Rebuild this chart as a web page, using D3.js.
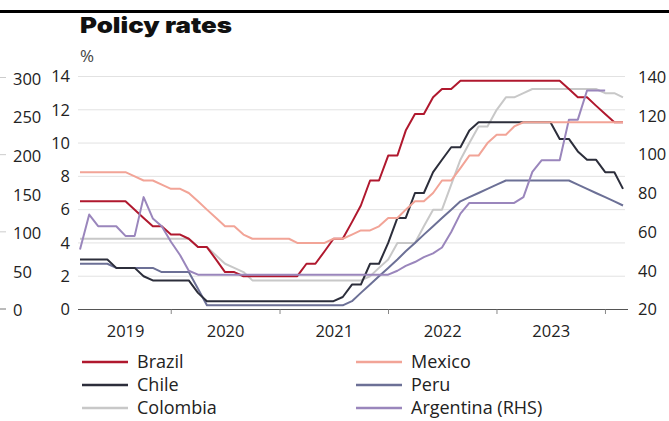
<!DOCTYPE html>
<html>
<head>
<meta charset="utf-8">
<script src="https://cdn.jsdelivr.net/npm/d3@7"></script>
<style>
  html, body { margin: 0; padding: 0; background: #fff; }
  svg { display: block; }
  text { font-family: "Open Sans", "Noto Sans", sans-serif; fill: #222; }
</style>
</head>
<body>
<svg id="chart" width="669" height="421"></svg>
<script>
// ---- Data (month-end values, Feb 2019 .. Feb 2024) ----
const startYear = 2019, startMonth = 1; // Feb 2019
const brazil = [6.5,6.5,6.5,6.5,6.5,6.5, 6.0,5.5,5.0,5.0,4.5,4.5,4.25,3.75,3.75,3.0,2.25,2.25,
  2.0,2.0,2.0,2.0,2.0,2.0,2.0, 2.75,2.75,3.5,4.25,4.25,5.25,6.25,7.75,7.75,9.25,9.25,10.75,11.75,11.75,12.75,13.25,13.25,
  13.75,13.75,13.75,13.75,13.75,13.75,13.75,13.75,13.75,13.75,13.75,13.75, 13.25,12.75,12.75,12.25,11.75,11.25,11.25];
const mexico = [8.25,8.25,8.25,8.25,8.25,8.25, 8.0,7.75,7.75,7.5,7.25,7.25,7.0,6.5,6.0,5.5,5.0,5.0,4.5,
  4.25,4.25,4.25,4.25,4.25, 4.0,4.0,4.0,4.0, 4.25,4.25,4.5,4.75,4.75,5.0,5.5,5.5,6.0,6.5,6.5,7.0,7.75,7.75,8.5,9.25,9.25,10.0,10.5,10.5,11.0,
  11.25,11.25,11.25,11.25,11.25,11.25,11.25,11.25,11.25,11.25,11.25,11.25];
const chile = [3.0,3.0,3.0,3.0, 2.5,2.5,2.5, 2.0, 1.75,1.75,1.75,1.75,1.75, 1.0,
  0.5,0.5,0.5,0.5,0.5,0.5,0.5,0.5,0.5,0.5,0.5,0.5,0.5,0.5,0.5,
  0.75,1.5,1.5,2.75,2.75,4.0,5.5,5.5,7.0,7.0,8.25,9.0,9.75,9.75,10.75,11.25,
  11.25,11.25,11.25,11.25,11.25,11.25,11.25,11.25, 10.25,10.25,9.5,9.0,9.0,8.25,8.25,7.25];
const peru = [2.75,2.75,2.75,2.75, 2.5, 2.5,2.5,2.5,2.5, 2.25,2.25,2.25,2.25, 1.25,
  0.25,0.25,0.25,0.25,0.25,0.25,0.25,0.25,0.25,0.25,0.25,0.25,0.25,0.25,0.25,0.25,
  0.5,1.0,1.5,2.0,2.5,3.0,3.5,4.0,4.5,5.0,5.5,6.0,6.5,6.75,7.0,7.25,7.5,
  7.75,7.75,7.75,7.75,7.75,7.75,7.75,7.75, 7.5,7.25,7.0,6.75,6.5,6.25];
const colombia = [4.25,4.25,4.25,4.25,4.25,4.25,4.25,4.25,4.25,4.25,4.25,4.25,4.25,
  3.75,3.75,3.25,2.75,2.5,2.25,
  1.75,1.75,1.75,1.75,1.75,1.75,1.75,1.75,1.75,1.75,1.75,1.75,1.75,
  2.0,2.5,3.0,4.0,4.0,4.0,5.0,6.0,6.0,7.5,9.0,10.0,11.0,11.0,12.0,12.75,12.75,13.0,
  13.25,13.25,13.25,13.25,13.25,13.25,13.25,13.25, 13.0,13.0,12.75];
const argentina = [51,69,63,63,63,58,58,78,67,63,55,48,40,
  38,38,38,38,38,38,38,38,38,38,38,38,38,38,38,38,38,38,38,38,38,38,
  40,42.5,44.5,47,49,52,60,69.5,
  75,75,75,75,75,75,
  78,91,97,97,97,118,118,133,133,133];

const seriesNames = ["Brazil","Mexico","Chile","Peru","Colombia","Argentina (RHS)"];
const seriesColors = ["#b0182e","#f2a497","#2c2e3b","#6c7096","#c8c8c8","#9a86bc"];
const yearLabels = ["2019","2020","2021","2022","2023"];
const leftTicks = [0,2,4,6,8,10,12,14];
const rightTicks = [20,40,60,80,100,120,140];
const outerTicks = [0,50,100,150,200,250,300];

const dates = d3.range(61).map(i => new Date(startYear, startMonth + 1 + i, 0));

// ---- Scales ----
const svg = d3.select("#chart");
svg.append("rect").attr("width",669).attr("height",421).attr("fill","#fff");

const x = d3.scaleTime().domain([dates[0], dates[60]]).range([80, 623]);
const yL = d3.scaleLinear().domain([0,14]).range([309.5, 76.5]);
const yR = d3.scaleLinear().domain([20,140]).range([309.5, 77]);
const yO = d3.scaleLinear().domain([0,300]).range([310.5, 79]);

const tickFont = "16.5px";
const legFont = "18px";

// top rule & title
svg.append("line").attr("x1",0).attr("x2",669).attr("y1",11.5).attr("y2",11.5)
  .attr("stroke","#000").attr("stroke-width",3);
svg.append("text").attr("x",80).attr("y",33).text("Policy rates")
  .attr("textLength",152).attr("lengthAdjust","spacingAndGlyphs")
  .style("font-family","Inter, 'Open Sans', sans-serif").style("font-weight",900)
  .style("font-size","22px").style("fill","#111");
svg.append("text").attr("x",80).attr("y",62).text("%").style("font-size","17px").style("fill","#444");

// gridlines
svg.append("g").selectAll("line").data(leftTicks.filter(d => d > 0)).join("line")
  .attr("x1",78).attr("x2",625).attr("y1",d => yL(d)).attr("y2",d => yL(d))
  .attr("stroke","#e2e2e2").attr("stroke-width",1);

// left inner axis labels
svg.append("g").selectAll("text").data(leftTicks).join("text")
  .attr("x",70).attr("y",d => yL(d)).attr("dy","0.35em").attr("text-anchor","end")
  .style("font-size",tickFont).text(d => d);

// right axis labels
svg.append("g").selectAll("text").data(rightTicks).join("text")
  .attr("x",638).attr("y",d => yR(d)).attr("dy","0.35em").attr("text-anchor","start")
  .style("font-size",tickFont).text(d => d);

// outer left axis (cut-off neighbouring chart)
svg.append("g").selectAll("text").data(outerTicks).join("text")
  .attr("x",13).attr("y",d => yO(d)).attr("dy","0.35em").attr("text-anchor","start")
  .style("font-size",tickFont).text(d => d);
svg.append("g").selectAll("line").data([0,100,200,300]).join("line")
  .attr("x1",0).attr("x2",6).attr("y1",d => yO(d) - 1.5).attr("y2",d => yO(d) - 1.5)
  .attr("stroke",d => d === 0 ? "#777" : "#ccc").attr("stroke-width",1);

// x axis
svg.append("line").attr("x1",78).attr("x2",628).attr("y1",309.5).attr("y2",309.5)
  .attr("stroke","#555").attr("stroke-width",1);
const yearStarts = [2020,2021,2022,2023,2024].map(y => new Date(y,0,1));
svg.append("g").selectAll("line").data(yearStarts).join("line")
  .attr("x1",d => x(d)).attr("x2",d => x(d)).attr("y1",309.5).attr("y2",314)
  .attr("stroke","#888").attr("stroke-width",1);
svg.append("g").selectAll("text").data(yearLabels).join("text")
  .attr("x",(d,i) => {
    const a = Math.max(x(new Date(+d,0,1)), x(dates[0]));
    const b = x(new Date(+d+1,0,1));
    return (a+b)/2;
  })
  .attr("y",331).attr("dy","0.35em").attr("text-anchor","middle")
  .style("font-size",tickFont).text(d => d);

// lines
const lineL = d3.line().x((d,i) => x(dates[i])).y(d => yL(d));
const lineR = d3.line().x((d,i) => x(dates[i])).y(d => yR(d));
const g = svg.append("g").attr("fill","none").attr("stroke-width",2).attr("stroke-linejoin","round");
const draw = [
  {data: colombia, idx: 4, f: lineL},
  {data: peru, idx: 3, f: lineL},
  {data: chile, idx: 2, f: lineL},
  {data: brazil, idx: 0, f: lineL},
  {data: argentina, idx: 5, f: lineR},
  {data: mexico, idx: 1, f: lineL}
];
draw.forEach(s => {
  g.append("path").attr("d", s.f(s.data)).attr("stroke", seriesColors[s.idx]);
});

// legend
const legX = [82, 356], legTextX = [137, 411], legY = [362, 385, 408];
const leg = svg.append("g");
seriesNames.forEach((name, j) => {
  const col = j % 2, row = Math.floor(j / 2);
  leg.append("line").attr("x1",legX[col]).attr("x2",legX[col]+46)
    .attr("y1",legY[row]).attr("y2",legY[row])
    .attr("stroke",seriesColors[j]).attr("stroke-width",2.5);
  leg.append("text").attr("x",legTextX[col]).attr("y",legY[row]).attr("dy","0.35em")
    .style("font-size",legFont).text(name);
});
</script>
</body>
</html>
